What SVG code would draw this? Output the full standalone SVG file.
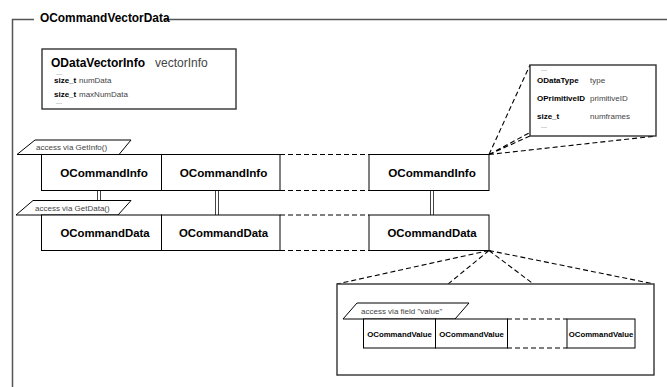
<svg xmlns="http://www.w3.org/2000/svg" width="667" height="387" viewBox="0 0 667 387">
<style>
text{font-family:"Liberation Sans",Arial,sans-serif}
.b{font-weight:bold;fill:#000}
.r{fill:#444}
.box{fill:#fff;stroke:#000;stroke-width:1}
.frm{fill:none;stroke:#555;stroke-width:1.5}
.dash{fill:none;stroke:#000;stroke-width:1.1;stroke-dasharray:5,3}
.dbl{stroke:#444;stroke-width:1}
.para{fill:#fff;stroke:#000;stroke-width:1}
.lbl{font-size:8px;fill:#444}
.cbox{fill:#fff;stroke:#333;stroke-width:1.4}
.dots{font-size:7px;fill:#666}
</style>
<rect width="667" height="387" fill="#fff"/>
<g id="frame">
<path class="frm" d="M12.5,387 V19.5 H34 M164,19.5 H667"/>
<text class="b" x="40" y="22" font-size="11.9">OCommandVectorData</text>
</g>
<g id="connectors">
<path class="dash" d="M280,154.5 H369 M280,190.5 H369 M280,215 H369 M280,250.5 H369"/>
<path class="dash" d="M489,154.5 L530,65 M489,154.5 L656,65 M489,154.5 L530,136 M489,154.5 L656,136"/>
<path class="dash" d="M489,250.5 L337,284 M489,250.5 L654,284 M489,250.5 L337,375 M489,250.5 L654,375"/>
<path class="dbl" d="M97.5,190.5 V200.5 M100.5,190.5 V200.5 M215.5,190.5 V215 M218.5,190.5 V215 M430.5,190.5 V215 M433.5,190.5 V215"/>
</g>
<g id="node-vectorinfo">
<rect class="cbox" x="42" y="49" width="194" height="60"/>
<text class="b" x="51" y="66.5" font-size="12">ODataVectorInfo</text>
<text class="r" x="155" y="66.5" font-size="12">vectorInfo</text>
<text class="dots" x="56" y="75">...</text>
<text class="b" x="54" y="82.5" font-size="8">size_t</text>
<text class="r" x="79" y="82.5" font-size="8">numData</text>
<text class="b" x="54" y="97" font-size="8">size_t</text>
<text class="r" x="79" y="97" font-size="8">maxNumData</text>
<text class="dots" x="56" y="104">...</text>
</g>
<g id="label-getinfo">
<polygon class="para" points="35,140 131,140 119,154.5 17,154.5"/>
<text class="lbl" x="36" y="150">access via GetInfo()</text>
</g>
<g id="node-info1"><rect class="box" x="41.5" y="154.5" width="120" height="36"/><text class="b" x="104" y="176.5" font-size="11.7" text-anchor="middle">OCommandInfo</text></g>
<g id="node-info2"><rect class="box" x="161.5" y="154.5" width="118.5" height="36"/><text class="b" x="223.5" y="176.5" font-size="11.7" text-anchor="middle">OCommandInfo</text></g>
<g id="node-info3"><rect class="box" x="369" y="154.5" width="120" height="36"/><text class="b" x="432" y="176.5" font-size="11.7" text-anchor="middle">OCommandInfo</text></g>
<g id="label-getdata">
<polygon class="para" points="33,200.5 131,200.5 118,215 16,215"/>
<text class="lbl" x="35" y="210.5">access via GetData()</text>
</g>
<g id="node-data1"><rect class="box" x="41.5" y="215" width="120" height="35.5"/><text class="b" x="105" y="236.5" font-size="11.4" text-anchor="middle">OCommandData</text></g>
<g id="node-data2"><rect class="box" x="161.5" y="215" width="118.5" height="35.5"/><text class="b" x="223.5" y="236.5" font-size="11.4" text-anchor="middle">OCommandData</text></g>
<g id="node-data3"><rect class="box" x="369" y="215" width="120" height="35.5"/><text class="b" x="432" y="236.5" font-size="11.4" text-anchor="middle">OCommandData</text></g>
<g id="callout-info">
<rect class="cbox" x="530" y="65" width="126" height="71"/>
<text class="dots" x="541" y="70.5">...</text>
<text class="b" x="537" y="82.5" font-size="8">ODataType</text>
<text class="r" x="590" y="82.5" font-size="8">type</text>
<text class="b" x="537" y="100.5" font-size="8">OPrimitiveID</text>
<text class="r" x="590" y="100.5" font-size="8">primitiveID</text>
<text class="b" x="537" y="118.5" font-size="8">size_t</text>
<text class="r" x="590" y="118.5" font-size="8">numframes</text>
<text class="dots" x="541" y="128">...</text>
</g>
<g id="callout-values">
<rect class="cbox" x="337" y="284" width="317" height="91"/>
<path class="dash" d="M507,319 H567 M507,348 H567"/>
<polygon class="para" points="357,303 469,303 455,319 343,319"/>
<text class="lbl" x="361" y="314">access via field "value"</text>
</g>
<g id="node-value1"><rect class="box" x="363.5" y="319" width="72" height="29"/><text class="b" x="399.5" y="336.5" font-size="7.8" text-anchor="middle">OCommandValue</text></g>
<g id="node-value2"><rect class="box" x="435.5" y="319" width="72" height="29"/><text class="b" x="471.5" y="336.5" font-size="7.8" text-anchor="middle">OCommandValue</text></g>
<g id="node-value3"><rect class="box" x="567" y="319" width="68" height="29"/><text class="b" x="601" y="336.5" font-size="7.8" text-anchor="middle">OCommandValue</text></g>
</svg>
